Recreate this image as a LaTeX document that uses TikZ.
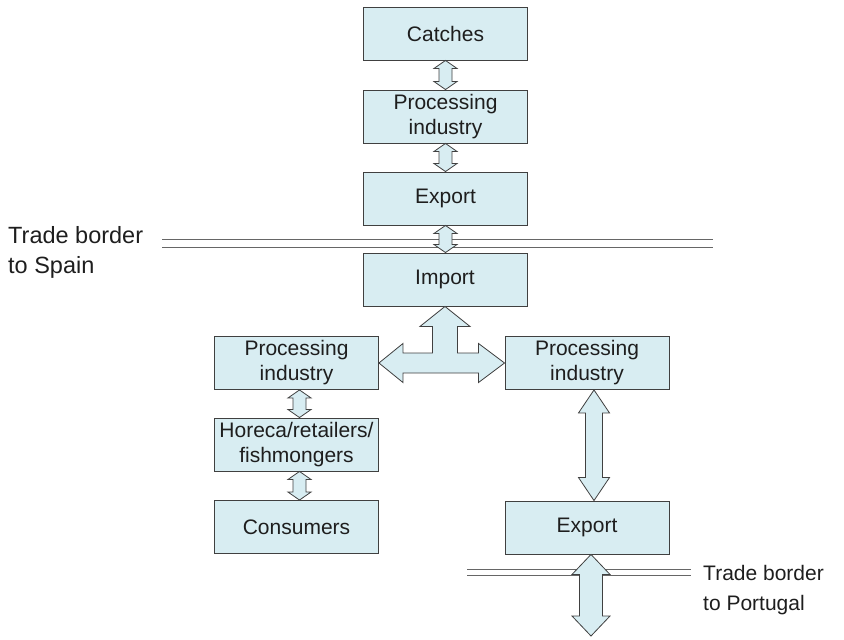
\documentclass[tikz,border=0pt]{standalone}
\usepackage{fontspec}
\setmainfont{Liberation Sans}
\usetikzlibrary{calc}
\definecolor{boxfill}{RGB}{216,237,242}
\definecolor{boxline}{RGB}{64,64,64}
\definecolor{txt}{RGB}{30,30,30}
\tikzset{
  box/.style={draw=boxline,fill=boxfill,line width=0.9pt,minimum width=164pt,
    minimum height=53pt,inner sep=0pt,align=center,text=txt,
    font=\fontsize{21}{25}\selectfont},
  arrowbody/.style={draw=boxline,fill=boxfill,line width=0.8pt,line join=miter},
  border/.style={draw=boxline!80,line width=1pt},
  label/.style={anchor=west,align=left,text=txt,inner sep=0pt}
}
% vertical double arrow: top point, bottom point, half shaft, half head, head length
\newcommand{\updown}[5]{%
  \filldraw[arrowbody] let \p1=#1, \p2=#2 in
    (\x1,\y1) -- (\x1+#4,\y1-#5) -- (\x1+#3,\y1-#5) -- (\x1+#3,\y2+#5)
    -- (\x1+#4,\y2+#5) -- (\x1,\y2) -- (\x1-#4,\y2+#5) -- (\x1-#3,\y2+#5)
    -- (\x1-#3,\y1-#5) -- (\x1-#4,\y1-#5) -- cycle;}
\begin{document}
\begin{tikzpicture}[x=1pt,y=-1pt]
  \useasboundingbox (0,0) rectangle (844,640);

  % Boxes
  \node at (445.5,33.5) (catches) [box] {Catches};
  \node at (445.5,116.5) (proc) [box] {Processing\\industry};
  \node at (445.5,198.5) (export) [box] {Export};
  \node at (445,279.5) (import) [box] {Import};
  \node at (296.5,363) (lproc) [box] {Processing\\industry};
  \node at (587,363) (rproc) [box] {Processing\\industry};
  \node at (296.5,444.5) (horeca) [box] {Horeca/retailers/\\fishmongers};
  \node at (296.5,527) (consumers) [box] {Consumers};
  \node at (587,527.5) (rexport) [box] {Export};

  % Trade borders
  \draw [border] (162,239) -- (713,239);
  \draw [border] (162,247) -- (713,247);
  \draw [border] (467,569) -- (691,569);
  \draw [border] (467,575) -- (691,575);
  \node at (8,252) (spain) [label,font=\fontsize{23.5}{30}\selectfont]
      {Trade border\\to Spain};
  \node at (703,590) (portugal) [label,font=\fontsize{21}{30}\selectfont]
      {Trade border\\to Portugal};
  \coordinate (exit) at (591,636);

  % Flows
  \updown{(catches.south)}{(proc.north)}{6.5pt}{11.5pt}{8pt}
  \updown{(proc.south)}{(export.north)}{6.5pt}{11.5pt}{8pt}
  \updown{(export.south)}{(import.north)}{6.5pt}{11.5pt}{8pt}
  \updown{([xshift=3pt]lproc.south)}{([xshift=3pt]horeca.north)}{6.5pt}{11.5pt}{8pt}
  \updown{([xshift=3pt]horeca.south)}{([xshift=3pt]consumers.north)}{6.5pt}{11.5pt}{8pt}
  \updown{([xshift=7pt]rproc.south)}{([xshift=7pt]rexport.north)}{8.5pt}{15.5pt}{23pt}
  \updown{([xshift=4pt]rexport.south)}{(exit)}{11.5pt}{19pt}{20pt}

  \filldraw [arrowbody] let \p1=(import.south), \p2=(lproc.east), \p3=(rproc.west) in
    (\x1,\y1) -- (\x1+25pt,\y1-20pt) -- (\x1+12.5pt,\y1-20pt) -- (\x1+12.5pt,\y3+10pt)
    -- (\x3-26pt,\y3+10pt) -- (\x3-26pt,\y3+19.5pt) -- (\x3,\y3)
    -- (\x3-26pt,\y3-19.5pt) -- (\x3-26pt,\y3-10pt) -- (\x2+24pt,\y2-10pt)
    -- (\x2+24pt,\y2-19.5pt) -- (\x2,\y2) -- (\x2+24pt,\y2+19.5pt)
    -- (\x2+24pt,\y2+10pt) -- (\x1-12.5pt,\y2+10pt) -- (\x1-12.5pt,\y1-20pt)
    -- (\x1-25pt,\y1-20pt) -- cycle;
\end{tikzpicture}
\end{document}
